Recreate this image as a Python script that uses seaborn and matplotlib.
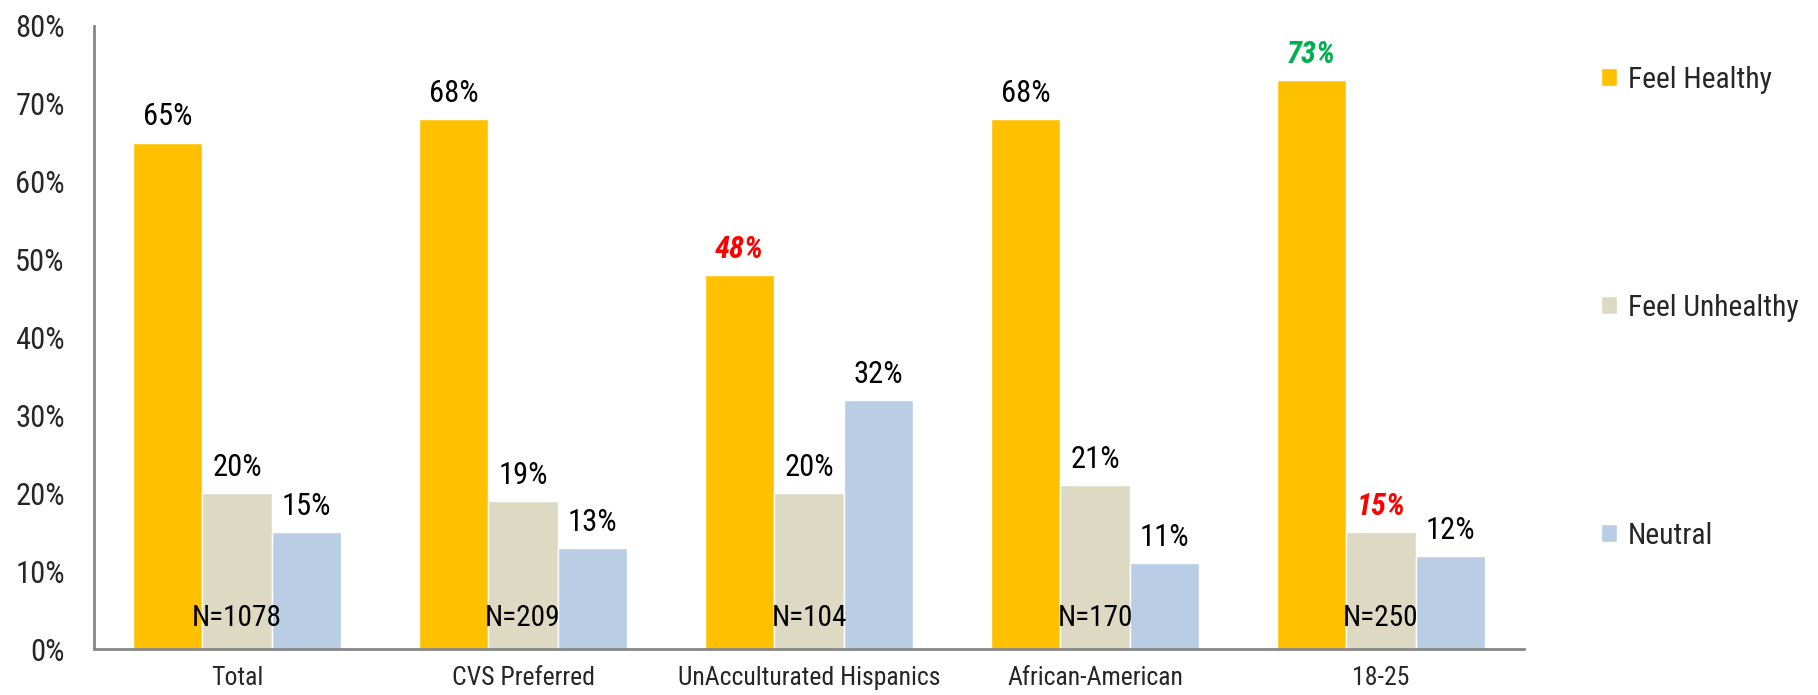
import matplotlib
matplotlib.use("Agg")
import matplotlib.pyplot as plt
from matplotlib import font_manager
import seaborn as sns
import pandas as pd

# Chart data
groups = ["Total", "CVS Preferred", "UnAcculturated Hispanics", "African-American", "18-25"]
series = ["Feel Healthy", "Feel Unhealthy", "Neutral"]
feel_healthy = [65, 68, 48, 68, 73]
feel_unhealthy = [20, 19, 20, 21, 15]
neutral = [15, 13, 32, 11, 12]
sample_sizes = [1078, 209, 104, 170, 250]

colors = ["#FFC000", "#DDD9C3", "#B9CDE5"]
# highlighted value labels: (series index, group index) -> colour
highlights = {(0, 2): "#FF0000", (0, 4): "#00B050", (1, 4): "#FF0000"}

sns.set_style("white")

# pick a narrow sans-serif face if one is installed
fonts = font_manager.fontManager.ttflist
names = {f.name for f in fonts}
stretch = "normal"
scale = 1.0
if "Liberation Sans Narrow" in names:
    family = "Liberation Sans Narrow"
elif "Roboto Condensed" in names:
    family = "Roboto Condensed"
elif any(f.name == "DejaVu Sans" and "Condensed" in f.fname for f in fonts):
    family = "DejaVu Sans"
    stretch = "condensed"
    scale = 0.9
else:
    family = "Liberation Sans"
    scale = 0.86
plt.rcParams["font.family"] = [family, "DejaVu Sans"]
plt.rcParams["font.stretch"] = stretch

FS = 22 * scale
FS_X = 18.5 * scale

df = pd.DataFrame({
    "group": groups * 3,
    "series": [s for s in series for _ in groups],
    "value": feel_healthy + feel_unhealthy + neutral,
})

fig = plt.figure(figsize=(18.18, 6.95), dpi=100)
ax = fig.add_axes([0.0517, 0.066, 0.7866, 0.897])

sns.barplot(data=df, x="group", y="value", hue="series", order=groups,
            hue_order=series, palette=colors, width=0.73, saturation=1,
            errorbar=None, ax=ax, legend=True)

values = [feel_healthy, feel_unhealthy, neutral]
for si, cont in enumerate(ax.containers):
    texts = ax.bar_label(cont, labels=[f"{v}%" for v in values[si]],
                         padding=8, fontsize=FS, color="black")
    for gi, t in enumerate(texts):
        if (si, gi) in highlights:
            t.set_color(highlights[(si, gi)])
            t.set_fontstyle("italic")
            t.set_fontweight("bold")

for gi, n in enumerate(sample_sizes):
    ax.text(gi, 4, f"N={n}", ha="center", va="center", fontsize=FS * 0.96, color="black")

ax.set_ylim(0, 80)
ax.set_xlim(-0.5, 4.5)
ax.set_yticks(range(0, 81, 10))
ax.set_yticklabels([f"{v}%" for v in range(0, 81, 10)])
ax.tick_params(axis="y", length=0, pad=21, labelsize=FS)
ax.tick_params(axis="x", length=0, pad=12, labelsize=FS_X)
ax.set_xlabel("")
ax.set_ylabel("")

for side in ("top", "right"):
    ax.spines[side].set_visible(False)
for side in ("left", "bottom"):
    ax.spines[side].set_color("#868686")
    ax.spines[side].set_linewidth(2)

handles, labels = ax.get_legend_handles_labels()
ax.get_legend().remove()
fig.legend(handles, labels, loc="upper left", bbox_to_anchor=(0.866, 0.944),
           frameon=False, fontsize=FS * 0.97, handlelength=0.55, handleheight=0.55,
           handletextpad=0.35, labelspacing=6.75 / scale)

fig.savefig("out.png", dpi=100)
